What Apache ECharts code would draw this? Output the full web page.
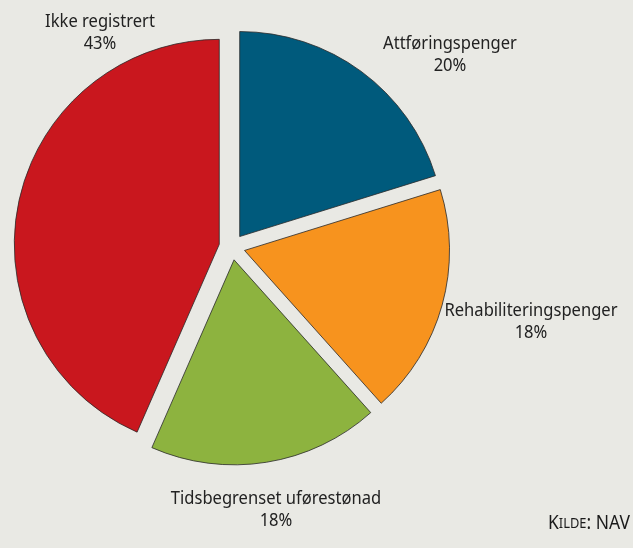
<!DOCTYPE html>
<html>
<head>
<meta charset="utf-8">
<script src="https://cdn.jsdelivr.net/npm/echarts@6/dist/echarts.min.js"></script>
<style>
	html, body { margin: 0; padding: 0; background: #e9e9e4; }
	#chart { width: 633px; height: 548px; }
</style>
</head>
<body>
<div id="chart"></div>
<script>
	// data
	var names = [ 'Attføringspenger', 'Rehabiliteringspenger', 'Tidsbegrenset uførestønad', 'Ikke registrert' ];
	var values = [ 20, 18, 18, 43 ];
	var colors = [ '#005a7c', '#f7931e', '#8db33f', '#c9171e' ];

	// label anchor points (centre of the two-line label)
	var labelPos = [ [ 450, 55 ], [ 531, 322 ], [ 276, 510 ], [ 100, 33 ] ];

	var chart = echarts.init(document.getElementById('chart'));
	var fontFam = '"Noto Sans", sans-serif';
	var squeeze = 0.92;

	var data = [];
	var labels = [];
	for (var i = 0; i < names.length; i++) {
		data.push({
			name: names[i],
			value: values[i],
			selected: true,
			itemStyle: { color: colors[i] }
		});
		labels.push({
			type: 'text',
			x: labelPos[i][0],
			y: labelPos[i][1],
			scaleX: squeeze,
			silent: true,
			style: {
				text: names[i] + '\n' + values[i] + '%',
				x: 0,
				y: 0,
				align: 'center',
				verticalAlign: 'middle',
				fontFamily: fontFam,
				fontSize: 18,
				lineHeight: 22,
				fill: '#222'
			}
		});
	}

	labels.push({
		type: 'text',
		x: 630,
		y: 524,
		scaleX: squeeze,
		silent: true,
		style: {
			text: '{a|K}{b|ILDE}{a|: NAV}',
			x: 0,
			y: 0,
			align: 'right',
			verticalAlign: 'middle',
			rich: {
				a: { fontFamily: fontFam, fontSize: 19, fill: '#1a1a1a' },
				b: { fontFamily: fontFam, fontSize: 14, fill: '#1a1a1a' }
			}
		}
	});

	var option = {
		backgroundColor: '#e9e9e4',
		animation: false,
		tooltip: { show: false },
		graphic: labels,
		series: [
			{
				type: 'pie',
				center: [ 232, 247 ],
				radius: [ 0, 205 ],
				startAngle: 90,
				selectedMode: 'multiple',
				selectedOffset: 13,
				silent: true,
				emphasis: { disabled: true },
				itemStyle: {
					borderColor: '#2a2a2a',
					borderWidth: 0.8
				},
				label: { show: false },
				labelLine: { show: false },
				data: data
			}
		]
	};
	option && chart.setOption(option);
</script>
</body>
</html>
